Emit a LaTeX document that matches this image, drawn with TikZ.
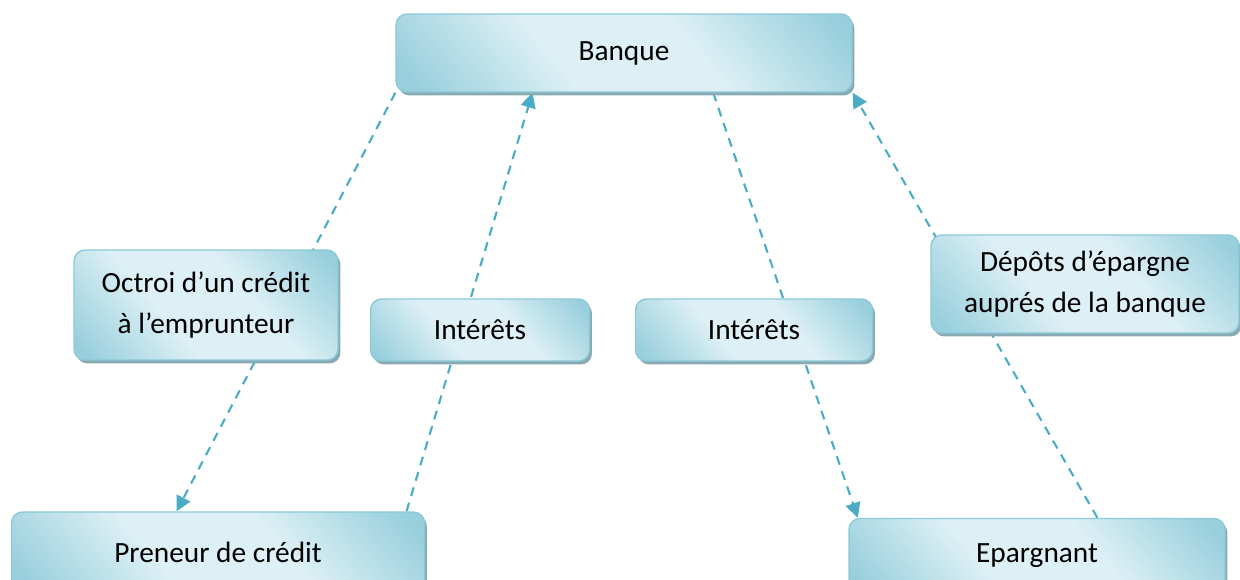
\documentclass[tikz,border=0pt]{standalone}
\usepackage{fontspec}
\setmainfont{Carlito}
\usetikzlibrary{arrows.meta,shadows,calc,backgrounds}
\definecolor{fleche}{HTML}{4BACC6}
\definecolor{bord}{HTML}{8CCAD9}
\definecolor{clair}{HTML}{DDF0F5}
\definecolor{fonce}{HTML}{98CFDD}
\definecolor{ombre}{HTML}{8AAAB3}
\pgfdeclareverticalshading{reflet}{100bp}{color(0bp)=(fonce); color(18bp)=(fonce);
  color(40bp)=(clair); color(60bp)=(clair); color(82bp)=(fonce); color(100bp)=(fonce)}

\begin{document}
\begin{tikzpicture}[x=0.02cm,y=-0.02cm,
  boite/.style={draw=bord,line width=0.8pt,rounded corners=0.22cm,
    shading=reflet,shading angle=-50,
    drop shadow={shadow xshift=0.05cm,shadow yshift=-0.07cm,fill=ombre,opacity=1},
    align=center,inner sep=0pt,font=\fontsize{16.7}{23}\selectfont},
  lien/.style={draw=fleche,line width=1.2pt,dash pattern=on 0.18cm off 0.14cm,
    -{Triangle[length=0.3cm,width=0.3cm]}}]
\useasboundingbox (0,0) rectangle (1240,580);
\clip (0,0) rectangle (1240,580);
\node[boite,minimum width=9.12cm,minimum height=1.56cm] (banque) at (624,53) {Banque};
\node[boite,minimum width=5.28cm,minimum height=2.2cm] (octroi) at (206,305) {Octroi d’un crédit\\à l’emprunteur};
\node[boite,minimum width=4.38cm,minimum height=1.24cm] (int1) at (480,330) {Intérêts};
\node[boite,minimum width=4.74cm,minimum height=1.24cm] (int2) at (754,330) {Intérêts};
\node[boite,minimum width=6.16cm,minimum height=1.96cm] (depots) at (1085,284) {Dépôts d’épargne\\auprés de la banque};
\node[boite,minimum width=8.26cm,minimum height=1.6cm] (preneur) at (218,552) {Preneur de crédit};
\node[boite,minimum width=7.52cm,minimum height=1.5cm] (epargnant) at (1037,556) {Epargnant};
\begin{scope}[on background layer]
  \draw[lien] (banque.south west) -- ($(preneur.north west)!0.4!(preneur.north east)$);
  \draw[lien] ($(preneur.north west)!0.955!(preneur.north east)$) -- ($(banque.south west)!0.3!(banque.south east)$);
  \draw[lien] ($(banque.south west)!0.695!(banque.south east)$) -- ($(epargnant.north west)!0.025!(epargnant.north east)$);
  \draw[lien] ($(epargnant.north west)!0.66!(epargnant.north east)$) -- (banque.south east);
\end{scope}
\end{tikzpicture}
\end{document}
